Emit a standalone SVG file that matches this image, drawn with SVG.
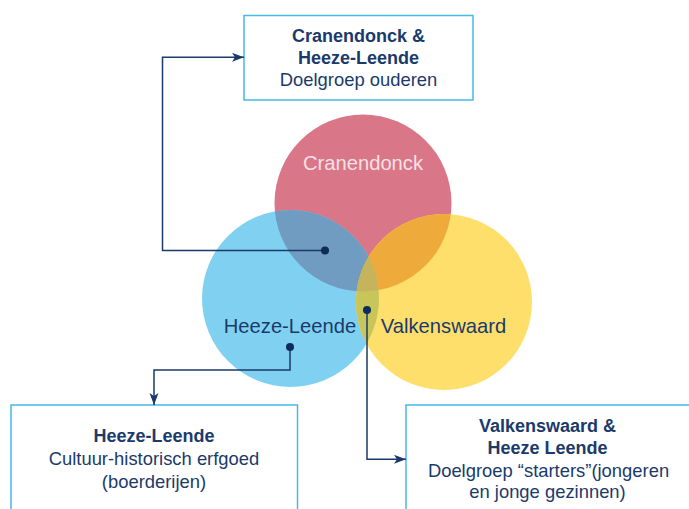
<svg xmlns="http://www.w3.org/2000/svg" width="689" height="509" viewBox="0 0 689 509">
  <style>
    .box { fill: #ffffff; stroke: #45B9E8; stroke-width: 1.5; }
    .t { font-family: "Liberation Sans", Arial, sans-serif; fill: #1B3A6B; text-anchor: middle; }
    .b { font-size: 18px; font-weight: bold; }
    .r { font-size: 18.4px; }
    .lbl { font-family: "Liberation Sans", Arial, sans-serif; font-size: 20.2px; text-anchor: middle; }
    .wire { fill: none; stroke: #1B3A6B; stroke-width: 1.5; }
    .dot { fill: #0F2B5B; }
  </style>
  <defs>
    <marker id="arrow" markerUnits="userSpaceOnUse" markerWidth="14" markerHeight="10" refX="12" refY="4.5" orient="auto">
      <path d="M0,0 L12,4.5 L0,9 L3,4.5 Z" fill="#1B3A6B"/>
    </marker>
    <clipPath id="clipRed"><circle cx="363" cy="203" r="88.5"/></clipPath>
    <clipPath id="clipBlue"><circle cx="290.5" cy="298.5" r="88.5"/></clipPath>
    <clipPath id="clipYellow"><circle cx="444" cy="302" r="88"/></clipPath>
  </defs>

  <rect width="689" height="509" fill="#ffffff"/>

  <!-- Venn diagram -->
  <g id="venn">
    <circle id="cranendonck" cx="363" cy="203" r="88.5" fill="#D97687"/>
    <circle id="heeze-leende" cx="290.5" cy="298.5" r="88.5" fill="#80D1F1"/>
    <circle id="valkenswaard" cx="444" cy="302" r="88" fill="#FFDF6B"/>
    <!-- pairwise overlaps -->
    <g clip-path="url(#clipRed)">
      <circle cx="290.5" cy="298.5" r="88.5" fill="#6F9CC0"/>
      <circle cx="444" cy="302" r="88" fill="#EEAB3B"/>
    </g>
    <g clip-path="url(#clipBlue)">
      <circle cx="444" cy="302" r="88" fill="#C8C65A"/>
      <g clip-path="url(#clipRed)">
        <circle cx="444" cy="302" r="88" fill="#C5B45B"/>
      </g>
    </g>
    <text class="lbl" x="363" y="170" fill="#F6E1E5">Cranendonck</text>
    <text class="lbl" x="290" y="333" fill="#1B3A6B">Heeze-Leende</text>
    <text class="lbl" x="443.5" y="333" fill="#1B3A6B">Valkenswaard</text>
  </g>

  <!-- Info boxes -->
  <g id="box-cranendonck-heeze">
    <rect class="box" x="244" y="15.5" width="229" height="84.5"/>
    <text class="t b" x="358.5" y="42">Cranendonck &amp;</text>
    <text class="t b" x="358.5" y="63.5">Heeze-Leende</text>
    <text class="t r" x="358.5" y="86">Doelgroep ouderen</text>
  </g>

  <g id="box-heeze">
    <rect class="box" x="11" y="405" width="286.5" height="110"/>
    <text class="t b" x="154" y="442">Heeze-Leende</text>
    <text class="t r" x="154" y="465">Cultuur-historisch erfgoed</text>
    <text class="t r" x="154" y="488">(boerderijen)</text>
  </g>

  <g id="box-valkenswaard-heeze">
    <rect class="box" x="406" y="405" width="290" height="110"/>
    <text class="t b" x="547.5" y="432">Valkenswaard &amp;</text>
    <text class="t b" x="547.5" y="454">Heeze Leende</text>
    <text class="t r" x="548.5" y="477">Doelgroep “starters”(jongeren</text>
    <text class="t r" x="547.5" y="498">en jonge gezinnen)</text>
  </g>

  <!-- Connectors -->
  <g id="connectors">
    <path class="wire" d="M325,250.5 H162.5 V57.3 H244" marker-end="url(#arrow)"/>
    <path class="wire" d="M290,347 V370 H154 V405" marker-end="url(#arrow)"/>
    <path class="wire" d="M367,310 V459.3 H406" marker-end="url(#arrow)"/>
    <circle class="dot" cx="325" cy="250.5" r="4"/>
    <circle class="dot" cx="290" cy="347" r="4"/>
    <circle class="dot" cx="367" cy="310" r="4"/>
  </g>
</svg>
